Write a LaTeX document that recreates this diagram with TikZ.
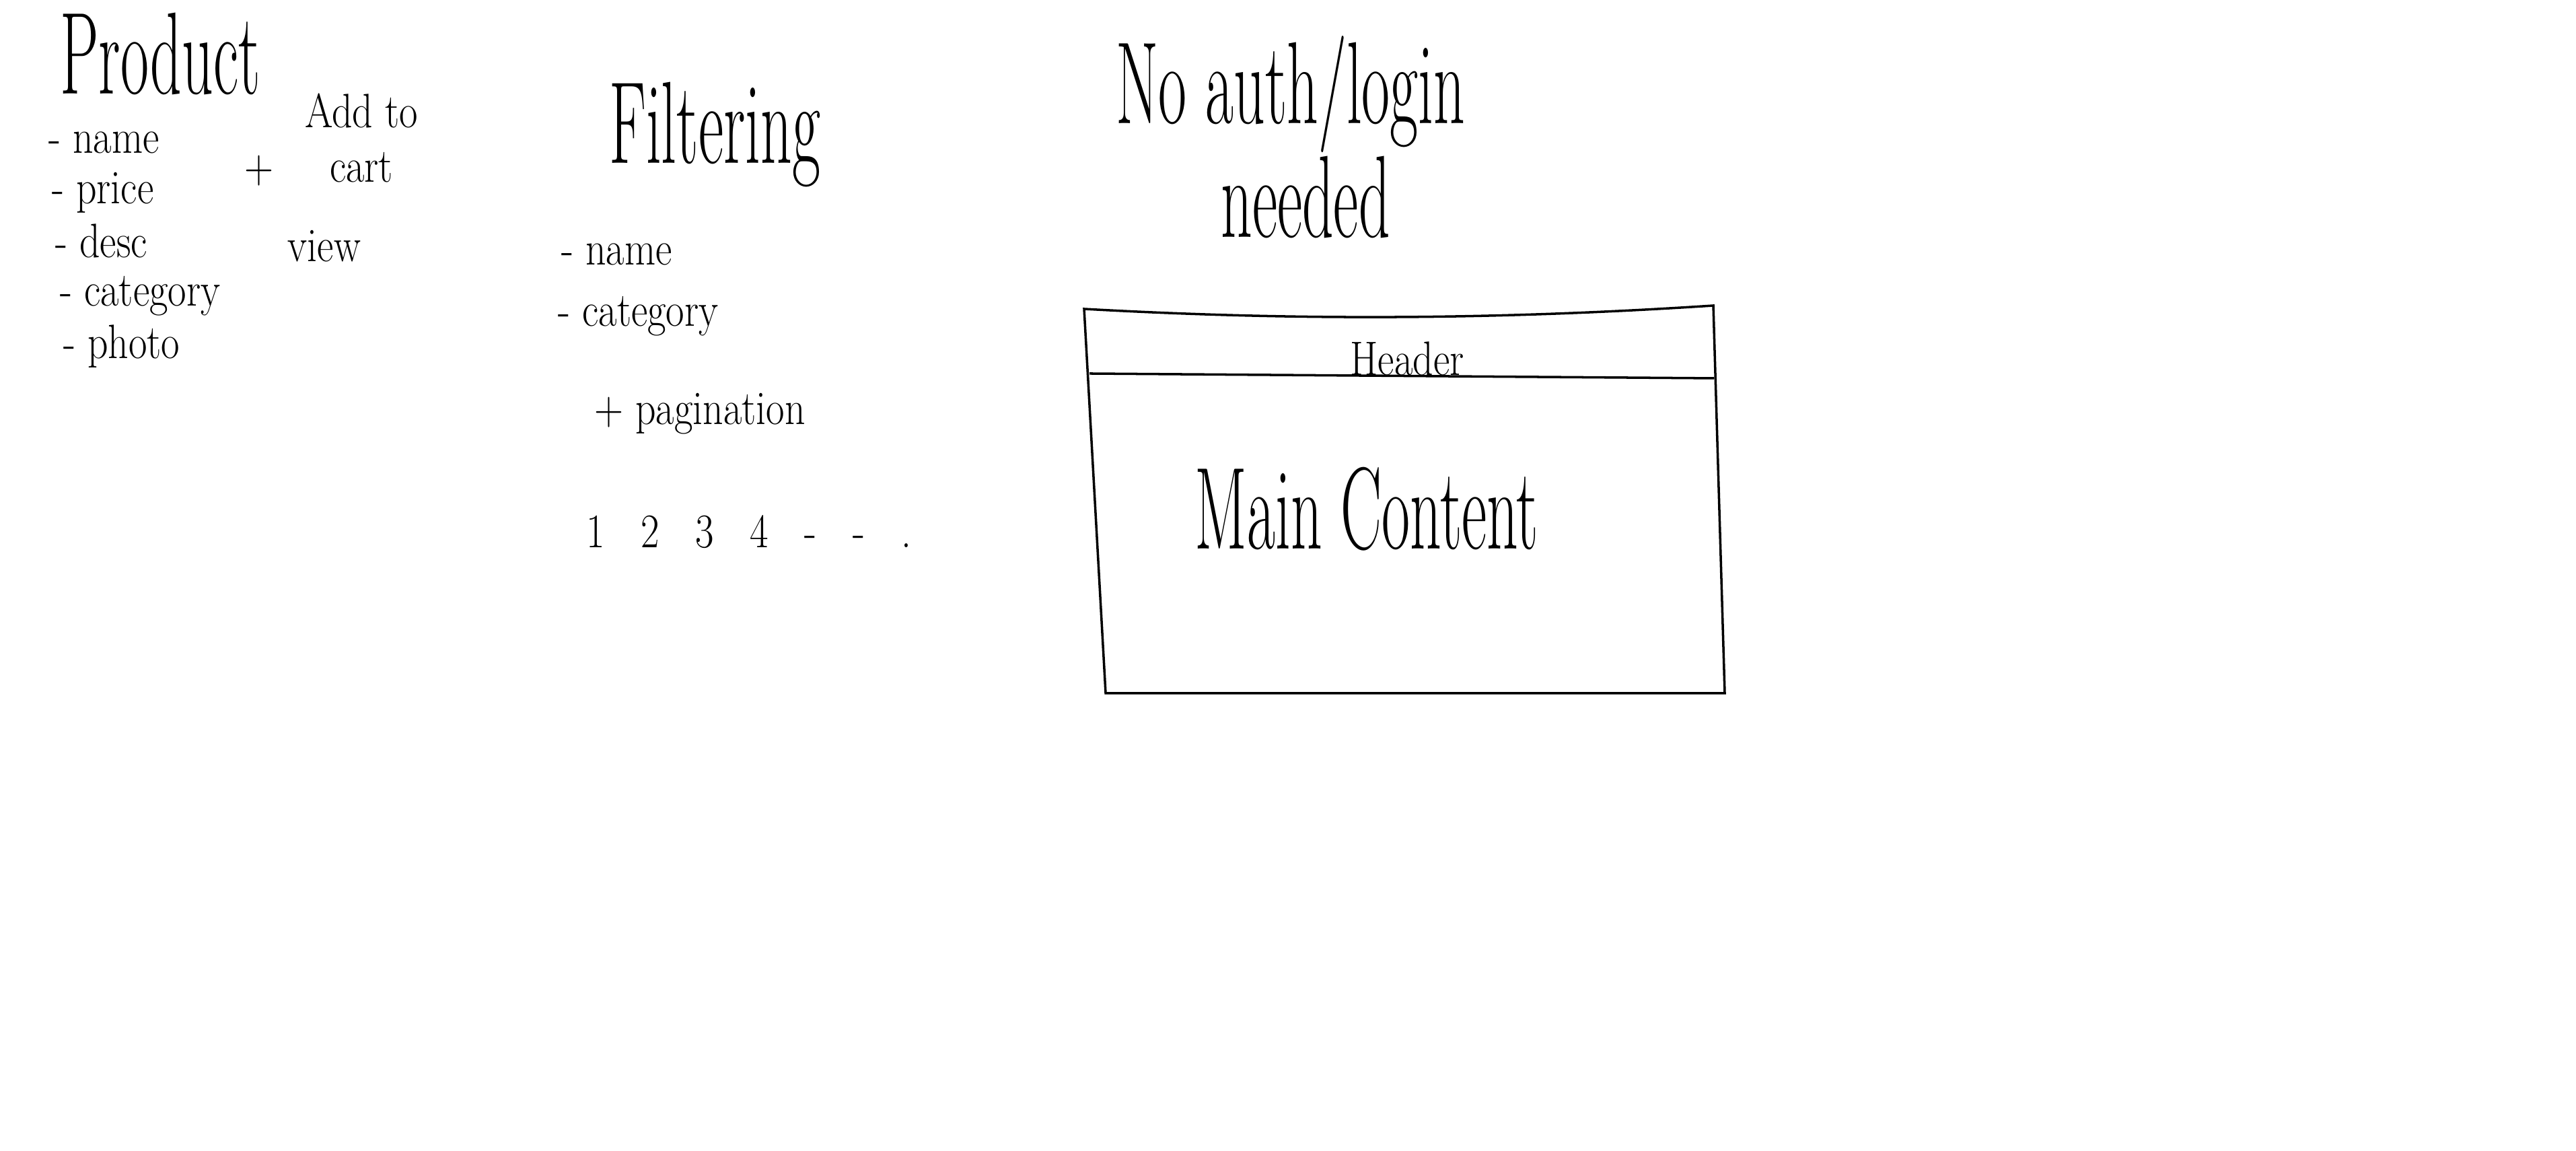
\documentclass[tikz,border=0pt]{standalone}
\usepackage{tikz}

\begin{document}
\begin{tikzpicture}[
  heading/.style={font=\fontsize{26}{28}\selectfont, yscale=1.9, inner sep=1pt},
  entry/.style={font=\fontsize{17}{19}\selectfont, yscale=1.2, inner sep=1pt}
]
\useasboundingbox (0, 0) rectangle (38.28, 17.10);
\node[heading] (product) at (2.38, 16.30) {Product};
\node[entry, right] (pname) at (0.68, 14.98) {- name};
\node[entry, right] (pprice) at (0.73, 14.24) {- price};
\node[entry, right] (pdesc) at (0.78, 13.52) {- desc};
\node[entry, right] (pcategory) at (0.85, 12.70) {- category};
\node[entry, right] (pphoto) at (0.90, 11.95) {- photo};
\node[entry] (plus) at (3.85, 14.56) {+};
\node[entry, align=center] (addcart) at (5.37, 15.05) {Add to\\cart};
\node[entry] (view) at (4.82, 13.44) {view};
\node[heading] (filtering) at (10.62, 15.10) {Filtering};
\node[entry, right] (fname) at (8.30, 13.32) {- name};
\node[entry, right] (fcategory) at (8.25, 12.40) {- category};
\node[entry, right] (pagination) at (8.79, 10.95) {+ pagination};
\node[entry, right] (pages) at (8.67, 9.20) {1\hspace{0.9em}2\hspace{0.9em}3\hspace{0.9em}4\hspace{0.9em}-\hspace{0.9em}-\hspace{0.9em}.};
\node[heading] (auth) at (19.18, 15.70) {No auth/login};
\node[heading] (needed) at (19.40, 14.17) {needed};
\draw[line width=1pt] (16.11, 12.51) .. controls (18.8, 12.36) and (21.8, 12.32) .. (25.46, 12.56) -- (25.63, 6.80) -- (16.43, 6.80) -- cycle;
\draw[line width=1pt] (16.19, 11.55) -- (25.47, 11.48);
\node[entry] (header) at (20.91, 11.77) {Header};
\node[heading] (content) at (20.31, 9.54) {Main Content};
\end{tikzpicture}
\end{document}
